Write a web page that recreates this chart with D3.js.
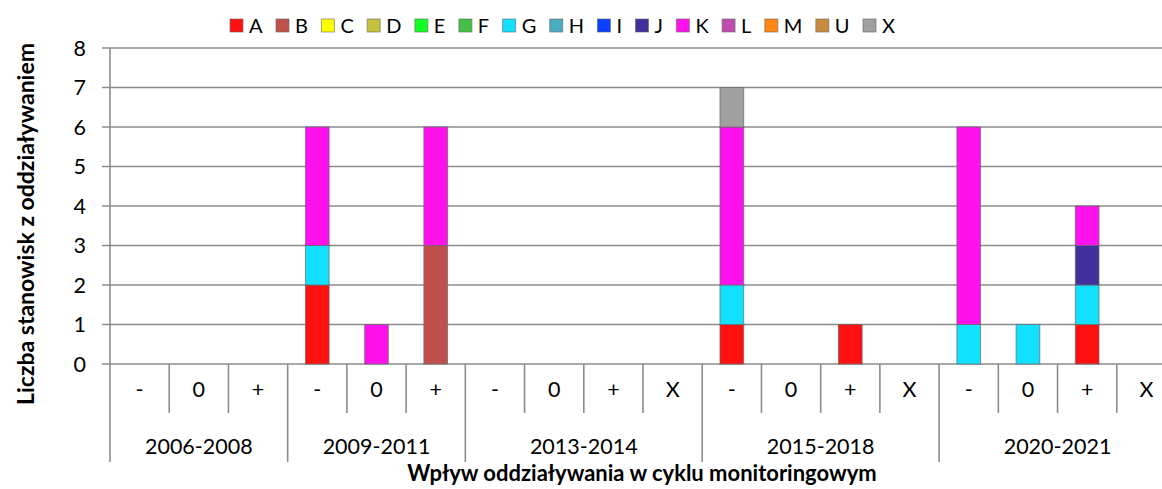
<!DOCTYPE html>
<html>
<head>
<meta charset="utf-8">
<script src="https://cdn.jsdelivr.net/npm/d3@7"></script>
<style>
  body { margin: 0; background: #fff; }
  svg { font-family: Lato, "Open Sans", sans-serif; }
</style>
</head>
<body>
<div class="chart"></div>
<script>
// Data

var groups = ["2006-2008", "2009-2011", "2013-2014", "2015-2018", "2020-2021"];
var subs = [
  ["-", "0", "+"],
  ["-", "0", "+"],
  ["-", "0", "+", "X"],
  ["-", "0", "+", "X"],
  ["-", "0", "+", "X"]
];
var seriesNames = ["A", "B", "C", "D", "E", "F", "G", "H", "I", "J", "K", "L", "M", "U", "X"];
var seriesColors = ["#ff1010", "#c0504d", "#ffff00", "#c4c43c", "#11ff22", "#44c044", "#11e0ff", "#4aacc0",
  "#0a40ff", "#40309c", "#ff11ee", "#c04cb0", "#ff8811", "#c88c40", "#a0a0a0"];

// one value per category (18), in order of groups/subs
var A = [0,0,0, 2,0,0, 0,0,0,0, 1,0,1,0, 0,0,1,0];
var B = [0,0,0, 0,0,3, 0,0,0,0, 0,0,0,0, 0,0,0,0];
var C = [0,0,0, 0,0,0, 0,0,0,0, 0,0,0,0, 0,0,0,0];
var D = [0,0,0, 0,0,0, 0,0,0,0, 0,0,0,0, 0,0,0,0];
var E = [0,0,0, 0,0,0, 0,0,0,0, 0,0,0,0, 0,0,0,0];
var F = [0,0,0, 0,0,0, 0,0,0,0, 0,0,0,0, 0,0,0,0];
var G = [0,0,0, 1,0,0, 0,0,0,0, 1,0,0,0, 1,1,1,0];
var H = [0,0,0, 0,0,0, 0,0,0,0, 0,0,0,0, 0,0,0,0];
var I = [0,0,0, 0,0,0, 0,0,0,0, 0,0,0,0, 0,0,0,0];
var J = [0,0,0, 0,0,0, 0,0,0,0, 0,0,0,0, 0,0,1,0];
var K = [0,0,0, 3,1,3, 0,0,0,0, 4,0,0,0, 5,0,1,0];
var L = [0,0,0, 0,0,0, 0,0,0,0, 0,0,0,0, 0,0,0,0];
var M = [0,0,0, 0,0,0, 0,0,0,0, 0,0,0,0, 0,0,0,0];
var U = [0,0,0, 0,0,0, 0,0,0,0, 0,0,0,0, 0,0,0,0];
var X = [0,0,0, 0,0,0, 0,0,0,0, 1,0,0,0, 0,0,0,0];
var seriesValues = [A, B, C, D, E, F, G, H, I, J, K, L, M, U, X];

var yTicks = [0, 1, 2, 3, 4, 5, 6, 7, 8];

// Build categories list
var cats = [];
groups.forEach(function(g, gi) {
  subs[gi].forEach(function(s, si) {
    cats.push({ id: g + "|" + s, group: g, sub: s, gi: gi, si: si });
  });
});

var rows = cats.map(function(c, i) {
  var r = { id: c.id };
  seriesNames.forEach(function(n, k) { r[n] = seriesValues[k][i]; });
  return r;
});

// SVG size
var svgWidth = 1162;
var svgHeight = 489;
var margin = { top: 48, left: 110 };
var width = 1066;
var height = 316;

var svg = d3.select(".chart").append("svg")
  .attr("width", svgWidth).attr("height", svgHeight);

var chartGroup = svg.append("g")
  .attr("transform", `translate(${margin.left}, ${margin.top})`);

var x = d3.scaleBand().domain(cats.map(d => d.id)).range([0, width]).paddingInner(0).paddingOuter(0);
var y = d3.scaleLinear().domain([0, 8]).range([height, 0]);

// Gridlines
chartGroup.selectAll(".grid").data(yTicks).enter().append("line")
  .attr("x1", -8).attr("x2", width)
  .attr("y1", d => y(d)).attr("y2", d => y(d))
  .attr("stroke", "#8c8c8c").attr("stroke-width", 1.6);

// Y axis labels
chartGroup.selectAll(".ylab").data(yTicks).enter().append("text")
  .attr("x", -24).attr("y", d => y(d))
  .attr("dy", "0.36em")
  .attr("text-anchor", "end")
  .attr("font-size", 21.5)
  .attr("fill", "#000")
  .text(d => d);

// Y axis line
chartGroup.append("line")
  .attr("x1", 0).attr("x2", 0).attr("y1", 0).attr("y2", height)
  .attr("stroke", "#8c8c8c").attr("stroke-width", 1.6);

// Stacked bars
var stack = d3.stack().keys(seriesNames);
var stacked = stack(rows);
var barW = x.bandwidth() * 0.4;

chartGroup.selectAll(".series").data(stacked).enter().append("g")
  .attr("fill", (d, i) => seriesColors[i])
  .selectAll("rect")
  .data(d => d.filter(p => p[1] - p[0] > 0))
  .enter().append("rect")
  .attr("x", d => x(d.data.id) + (x.bandwidth() - barW) / 2)
  .attr("y", d => y(d[1]))
  .attr("width", barW)
  .attr("height", d => y(d[0]) - y(d[1]))
  .attr("stroke", "#666").attr("stroke-opacity", 0.7).attr("stroke-width", 1);

// Category ticks below axis
var catBottom = height + 49;
var groupBottom = height + 98;
chartGroup.selectAll(".ctick").data(cats).enter().append("line")
  .attr("x1", d => x(d.id)).attr("x2", d => x(d.id))
  .attr("y1", height)
  .attr("y2", d => d.si === 0 ? groupBottom : catBottom)
  .attr("stroke", "#8c8c8c").attr("stroke-width", 1.6);

chartGroup.selectAll(".clab").data(cats).enter().append("text")
  .attr("x", d => x(d.id) + x.bandwidth() / 2)
  .attr("y", height + 33)
  .attr("text-anchor", "middle")
  .attr("font-size", 21.5)
  .text(d => d.sub);

// group labels
groups.forEach(function(g, gi) {
  var members = cats.filter(c => c.gi === gi);
  var x0 = x(members[0].id);
  var x1 = x(members[members.length - 1].id) + x.bandwidth();
  chartGroup.append("text")
    .attr("x", (x0 + x1) / 2)
    .attr("y", height + 90)
    .attr("text-anchor", "middle")
    .attr("font-size", 21.5)
    .text(g);
});

// Axis titles
svg.append("text")
  .attr("transform", "translate(34, 224) rotate(-90)")
  .attr("text-anchor", "middle")
  .attr("font-size", 23)
  .attr("font-weight", "bold")
  .text("Liczba stanowisk z oddziaływaniem");

svg.append("text")
  .attr("x", 642).attr("y", 481)
  .attr("text-anchor", "middle")
  .attr("font-size", 22)
  .attr("font-weight", "bold")
  .text("Wpływ oddziaływania w cyklu monitoringowym");

// Legend
var legend = svg.append("g").attr("transform", "translate(230, 0)");
var items = legend.selectAll("g").data(seriesNames).enter().append("g");
items.append("rect")
  .attr("x", 0).attr("y", 19).attr("width", 13).attr("height", 13)
  .attr("fill", (d, i) => seriesColors[i])
  .attr("stroke", "#666").attr("stroke-opacity", 0.6);
items.append("text")
  .attr("x", 19).attr("y", 32.5)
  .attr("font-size", 20)
  .text(d => d);
var widths = [];
items.selectAll("text").each(function() { widths.push(this.getComputedTextLength()); });
var span = 633;
var totalText = d3.sum(widths.slice(0, widths.length - 1));
var gap = (span - totalText) / (seriesNames.length - 1);
var lx = 0;
items.each(function(d, i) {
  d3.select(this).attr("transform", `translate(${lx}, 0)`);
  lx += widths[i] + gap;
});
</script>
</body>
</html>
